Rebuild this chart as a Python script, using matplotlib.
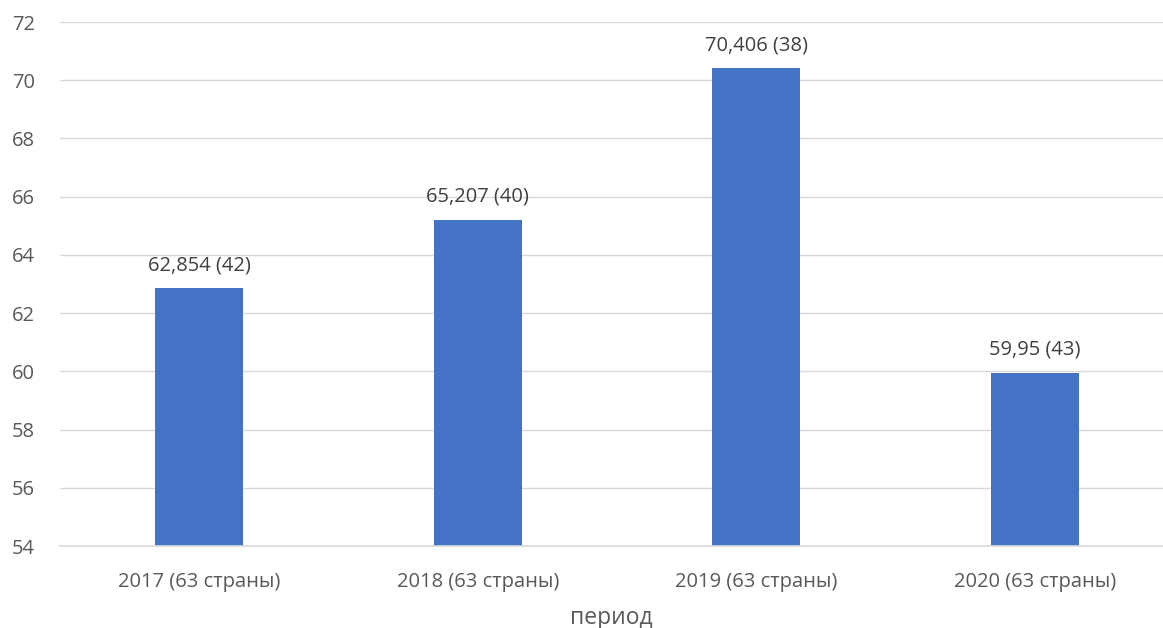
import matplotlib
matplotlib.use("Agg")
from matplotlib import pyplot as plt

plt.rcParams['font.family'] = ['Open Sans', 'DejaVu Sans']

categories = ['2017 (63 страны)', '2018 (63 страны)', '2019 (63 страны)', '2020 (63 страны)']
values = [62.854, 65.207, 70.406, 59.95]
labels = ['62,854 (42)', '65,207 (40)', '70,406 (38)', '59,95 (43)']
yticks = [54, 56, 58, 60, 62, 64, 66, 68, 70, 72]

fig = plt.figure(figsize=(11.63, 6.28), dpi=100)
ax = fig.add_axes([60 / 1163, 1 - 546 / 628, 1 - 60 / 1163, (546 - 22) / 628])

x = range(len(categories))
ax.bar(x, values, width=0.317, color='#4472C4', zorder=3)
for i, v in enumerate(values):
    ax.text(i, v + 0.45, labels[i], ha='center', va='bottom', fontsize=14.5, color='#404040')

ax.set_ylim(54, 72)
ax.set_xlim(-0.5, 3.46)
ax.set_yticks(yticks)
ax.set_yticklabels([str(t) for t in yticks])
ax.set_xticks(list(x))
ax.set_xticklabels(categories)
ax.grid(axis='y', color='#D9D9D9', linewidth=1, zorder=0)
ax.axhline(54, color='#D9D9D9', linewidth=1.2, zorder=4, clip_on=False)
for s in ax.spines.values():
    s.set_visible(False)
ax.tick_params(axis='both', length=0, labelsize=14.5, labelcolor='#595959')
ax.tick_params(axis='x', pad=19)
ax.tick_params(axis='y', pad=18)
ax.set_xlabel('период', fontsize=16.5, color='#595959', labelpad=10)

fig.savefig('out.png', dpi=100)
